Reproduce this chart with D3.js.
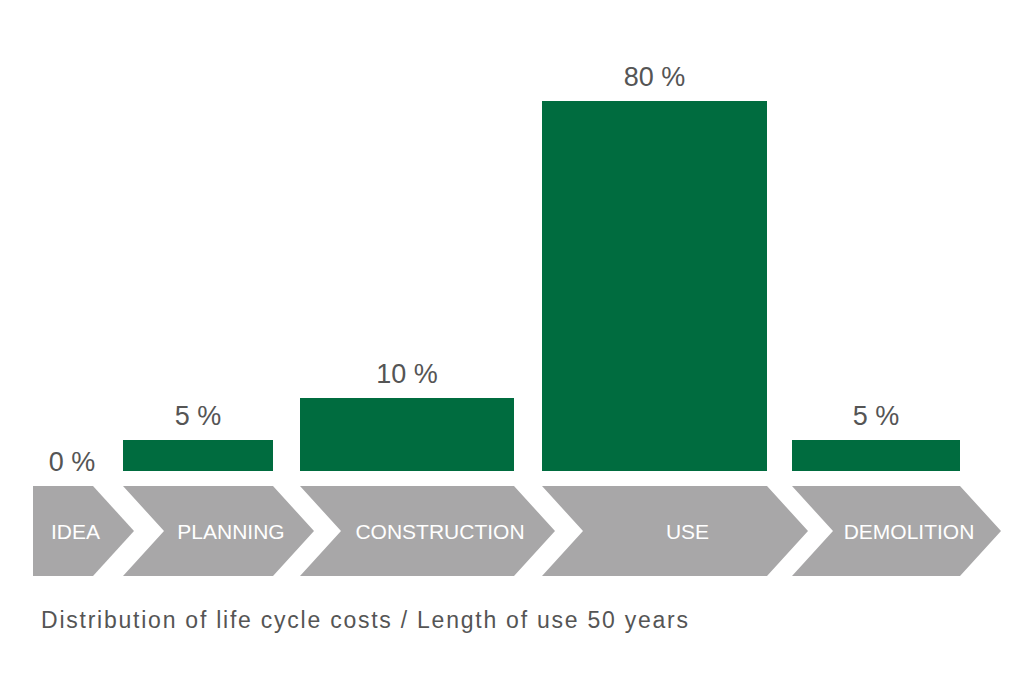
<!DOCTYPE html>
<html>
<head>
<meta charset="utf-8">
<script src="https://cdn.jsdelivr.net/npm/d3@7/dist/d3.min.js"></script>
<style>
  html, body { margin: 0; padding: 0; background: #fff; }
  svg { display: block; }
</style>
</head>
<body>
<svg id="chart" width="1024" height="683"></svg>
<script>
// ---- data ----
const phases = ["IDEA", "PLANNING", "CONSTRUCTION", "USE", "DEMOLITION"];
const costShare = [0, 5, 10, 80, 5];
const shareLabels = ["0 %", "5 %", "10 %", "80 %", "5 %"];
const caption = "Distribution of life cycle costs / Length of use 50 years";

// ---- layout ----
const phaseSpan = [60, 150, 214, 225, 168]; // relative width of each phase band
const phaseGap = [30, 27, 28, 25];
const W = 1024, H = 683;
const left = 33;
const barBase = 471;
const chevTop = 486, chevBot = 576, tipDepth = 41;
const green = "#006c3f", grey = "#a8a7a8", textGrey = "#555555";
const font = "'Liberation Sans', Arial, sans-serif";

const svg = d3.select("#chart");

// x positions of bands via a linear scale on cumulative units
let acc = 0;
const bands = phaseSpan.map((w, i) => {
  const s = acc; acc += w; const e = acc; acc += (phaseGap[i] || 0);
  return { s, e };
});
const totalUnits = acc;
const x = d3.scaleLinear().domain([0, totalUnits]).range([left, left + totalUnits]);

// The original graphic is not drawn to strict proportion; a piecewise scale reproduces it.
const y = d3.scaleLinear().domain([0, 5, 10, 80]).range([barBase, 440, 398, 101]);

const rows = phases.map((p, i) => ({
  phase: p, value: costShare[i], label: shareLabels[i],
  x0: x(bands[i].s), x1: x(bands[i].e), i
}));

// chevrons
const mid = (chevTop + chevBot) / 2;
svg.append("g").selectAll("path").data(rows).join("path")
  .attr("d", d => {
    const p = d3.path();
    p.moveTo(d.x0, chevTop);
    p.lineTo(d.x1, chevTop);
    p.lineTo(d.x1 + tipDepth, mid);
    p.lineTo(d.x1, chevBot);
    p.lineTo(d.x0, chevBot);
    if (d.i > 0) p.lineTo(d.x0 + tipDepth, mid);
    p.closePath();
    return p.toString();
  })
  .attr("fill", grey);

// phase labels
svg.append("g").selectAll("text").data(rows).join("text")
  .attr("x", d => ((d.i > 0 ? d.x0 + tipDepth : d.x0) + d.x1 + tipDepth) / 2 - 8)
  .attr("y", mid)
  .attr("dy", "0.36em")
  .attr("text-anchor", "middle")
  .attr("fill", "#ffffff")
  .attr("font-family", font)
  .attr("font-size", 21)
  .text(d => d.phase);

// bars
svg.append("g").selectAll("rect").data(rows.filter(d => d.value > 0)).join("rect")
  .attr("x", d => d.x0)
  .attr("width", d => d.x1 - d.x0)
  .attr("y", d => y(d.value))
  .attr("height", d => y(0) - y(d.value))
  .attr("fill", green);

// value labels
svg.append("g").selectAll("text").data(rows).join("text")
  .attr("x", d => d.value === 0 ? (d.x0 + d.x1) / 2 + 9 : (d.x0 + d.x1) / 2)
  .attr("y", d => d.value === 0 ? barBase : y(d.value) - 15)
  .attr("text-anchor", "middle")
  .attr("fill", textGrey)
  .attr("font-family", font)
  .attr("font-size", 27)
  .text(d => d.label);

// caption
svg.append("text")
  .attr("x", 41)
  .attr("y", 628)
  .attr("fill", textGrey)
  .attr("font-family", font)
  .attr("font-size", 23)
  .attr("textLength", 647)
  .attr("lengthAdjust", "spacing")
  .text(caption);
</script>
</body>
</html>
